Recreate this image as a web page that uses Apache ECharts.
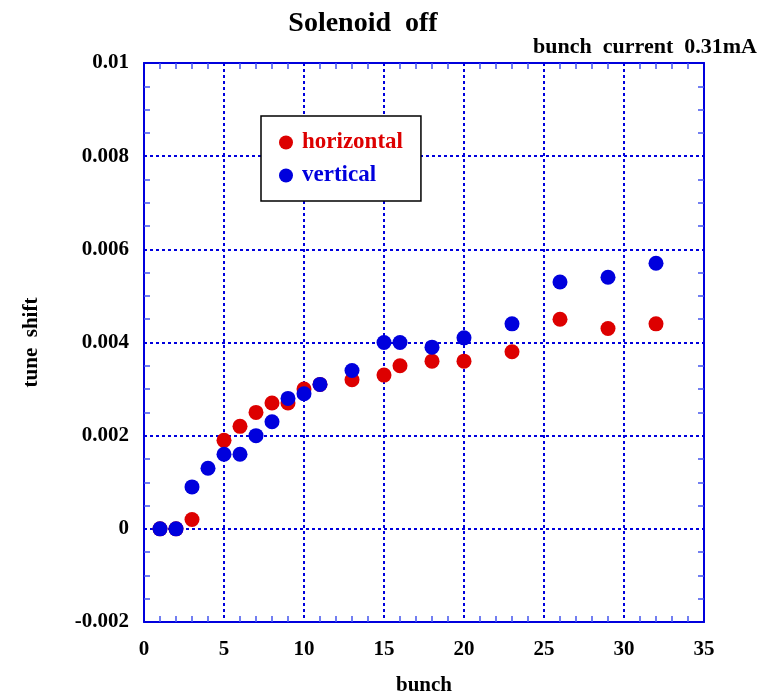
<!DOCTYPE html>
<html><head><meta charset="utf-8">
<script src="https://cdn.jsdelivr.net/npm/echarts@6/dist/echarts.min.js"></script>
<style>html,body{margin:0;padding:0;background:#fff}#c{width:765px;height:697px}</style>
</head><body><div id="c"></div>
<script>
const bunchH = [1, 2, 3, 5, 6, 7, 8, 9, 10, 11, 13, 15, 16, 18, 20, 23, 26, 29, 32];
const horizontal = [0, 0, 0.0002, 0.0019, 0.0022, 0.0025, 0.0027, 0.0027, 0.0030, 0.0031, 0.0032, 0.0033, 0.0035, 0.0036, 0.0036, 0.0038, 0.0045, 0.0043, 0.0044];
const bunchV = [1, 2, 3, 4, 5, 6, 7, 8, 9, 10, 11, 13, 15, 16, 18, 20, 23, 26, 29, 32];
const vertical = [0, 0, 0.0009, 0.0013, 0.0016, 0.0016, 0.0020, 0.0023, 0.0028, 0.0029, 0.0031, 0.0034, 0.0040, 0.0040, 0.0039, 0.0041, 0.0044, 0.0053, 0.0054, 0.0057];
const yTickLabels = {'-0.002':'-0.002','0':'0','0.002':'0.002','0.004':'0.004','0.006':'0.006','0.008':'0.008','0.01':'0.01'};

const FONT = 'Liberation Serif';
const BLUE = '#0000dd';
const RED = '#dd0000';

const chart = echarts.init(document.getElementById('c'));
const grid = {left: 144, right: 61, top: 63, bottom: 75, outerBoundsMode: 'none', containLabel: false};
const axisLine = {show: true, onZero: false, lineStyle: {color: BLUE, width: 2}};
const splitLine = {show: true, lineStyle: {color: BLUE, width: 2, type: [3, 3]}};
const axisTick = {show: false, inside: true};
const minorTick = {show: true, length: 6, lineStyle: {color: '#4455ee', width: 1.5}};
const labelStyle = {fontFamily: FONT, fontWeight: 'bold', fontSize: 21, color: '#000'};
chart.setOption({
  animation: false,
  title: [
    {text: 'Solenoid  off', left: 358, top: 5, textAlign: 'center',
     textStyle: {fontFamily: FONT, fontWeight: 'bold', fontSize: 28, color: '#000'}},
    {text: 'bunch  current  0.31mA', right: 3, top: 31,
     textStyle: {fontFamily: FONT, fontWeight: 'bold', fontSize: 22, color: '#000'}}
  ],
  legend: {
    left: 261, top: 116, orient: 'vertical', itemWidth: 14, itemHeight: 14, itemGap: 10,
    borderColor: '#000', borderWidth: 1.5, padding: [15, 18, 14, 18], backgroundColor: '#fff',
    data: [
      {name: 'horizontal', icon: 'circle', textStyle: {color: RED}},
      {name: 'vertical', icon: 'circle', textStyle: {color: BLUE}}
    ],
    textStyle: {fontFamily: FONT, fontWeight: 'bold', fontSize: 23, padding: [0, 0, 0, 4]}
  },
  grid: grid,
  xAxis: [{
    type: 'value', min: 0, max: 35, interval: 5, position: 'bottom',
    name: 'bunch', nameLocation: 'middle', nameGap: 53,
    nameTextStyle: labelStyle,
    axisLine: axisLine, axisTick: axisTick,
    minorTick: Object.assign({splitNumber: 5}, minorTick),
    splitLine: splitLine,
    axisLabel: Object.assign({margin: 17}, labelStyle)
  }, {
    type: 'value', min: 0, max: 35, interval: 5, position: 'top',
    axisLine: axisLine, axisTick: axisTick,
    minorTick: Object.assign({splitNumber: 5}, minorTick),
    splitLine: {show: false}, axisLabel: {show: false}
  }],
  yAxis: [{
    type: 'value', min: -0.002, max: 0.01, interval: 0.002, position: 'left',
    name: 'tune  shift', nameLocation: 'middle', nameGap: 102, nameRotate: 90,
    nameTextStyle: labelStyle,
    axisLine: axisLine, axisTick: axisTick,
    minorTick: Object.assign({splitNumber: 4}, minorTick),
    splitLine: splitLine,
    axisLabel: Object.assign({margin: 15,
      formatter: v => yTickLabels[String(+v.toFixed(4))] ?? ''}, labelStyle)
  }, {
    type: 'value', min: -0.002, max: 0.01, interval: 0.002, position: 'right',
    axisLine: axisLine, axisTick: axisTick,
    minorTick: Object.assign({splitNumber: 4}, minorTick),
    splitLine: {show: false}, axisLabel: {show: false}
  }],
  series: [
    {name: 'horizontal', type: 'scatter', symbol: 'circle', symbolSize: 15,
     itemStyle: {color: RED, opacity: 1}, z: 3,
     data: bunchH.map((x, i) => [x, horizontal[i]])},
    {name: 'vertical', type: 'scatter', symbol: 'circle', symbolSize: 15,
     itemStyle: {color: BLUE, opacity: 1}, z: 4,
     data: bunchV.map((x, i) => [x, vertical[i]])}
  ]
});
</script></body></html>
